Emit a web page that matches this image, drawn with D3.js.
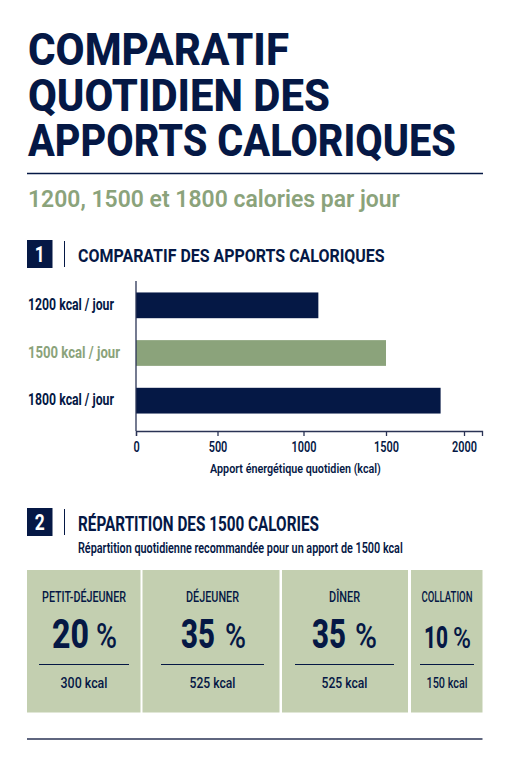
<!DOCTYPE html>
<html>
<head>
<meta charset="utf-8">
<script src="https://cdn.jsdelivr.net/npm/d3@7"></script>
<style>
    html, body { margin: 0; padding: 0; background: #fff; }
    svg { display: block; }
    text { font-family: Roboto, "Liberation Sans", sans-serif; }
</style>
</head>
<body>
<div id="graph"></div>
<script>
var titleLines = ["COMPARATIF", "QUOTIDIEN DES", "APPORTS CALORIQUES"];
var subtitle = "1200, 1500 et 1800 calories par jour";
var categories = ["1200 kcal / jour", "1500 kcal / jour", "1800 kcal / jour"];
var intakes = [1090, 1500, 1850];
var xTicks = [0, 500, 1000, 1500, 2000];
var mealLabels = ["PETIT-DÉJEUNER", "DÉJEUNER", "DÎNER", "COLLATION"];
var mealShares = [20, 35, 35, 10];
var mealKcal = [300, 525, 525, 150];

var width = 511,
    height = 768,
    navy = "#051845",
    green = "#8ba37b",
    pale = "#c3cfb0";

var svg = d3.select("#graph")
    .append("svg")
    .attr("width", width)
    .attr("height", height);

// text squeezed to a set width, the font stack has no condensed cut
function put(str, x, y, size, weight, fill, w, anchor) {
    var t = svg.append("text")
        .attr("font-size", size)
        .attr("font-weight", weight)
        .attr("fill", fill)
        .attr("text-anchor", anchor || "start")
        .text(str);
    var natural = t.node().getComputedTextLength();
    t.attr("transform", "translate(" + x + "," + y + ") scale(" + (w / natural) + ",1)");
    return t;
}

function rule(x1, x2, y, color, sw) {
    svg.append("line")
        .attr("x1", x1).attr("x2", x2)
        .attr("y1", y).attr("y2", y)
        .attr("stroke", color)
        .attr("stroke-width", sw);
}

// header
var titleWidths = [261, 302, 428];
var titleBase = [65, 110.5, 156];
titleLines.forEach(function(d, i) {
    put(d, 28, titleBase[i], 45, 800, navy, titleWidths[i]);
});
rule(27, 483, 173.5, navy, 1.3);
put(subtitle, 28, 207, 24, 600, green, 372);

// section headers
function sectionHead(num, label, y, labelWidth, labelSize, labelBase) {
    svg.append("rect")
        .attr("x", 27).attr("y", y)
        .attr("width", 25.5).attr("height", 28)
        .attr("fill", navy);
    put(num, 39.7, y + 21.5, 22, 700, "#fff", 10, "middle");
    svg.append("line")
        .attr("x1", 64.5).attr("x2", 64.5)
        .attr("y1", y + 1).attr("y2", y + 27)
        .attr("stroke", navy)
        .attr("stroke-width", 1);
    put(label, 78, labelBase, labelSize, 700, navy, labelWidth);
}
sectionHead("1", "COMPARATIF DES APPORTS CALORIQUES", 240, 307, 18, 262);
sectionHead("2", "RÉPARTITION DES 1500 CALORIES", 508, 241, 20, 530.5);

// bar chart, tick spacing in the picture is a little uneven so the scale is piecewise
var x = d3.scaleLinear()
    .domain([0, 500, 1000, 1500, 2000, 2115])
    .range([136, 217.5, 303.5, 386, 464, 482]);

var y = d3.scaleBand()
    .domain(categories)
    .range([281.5, 424.5])
    .paddingInner(0.46)
    .paddingOuter(0.23);

svg.selectAll(".bar")
    .data(categories)
    .enter()
    .append("rect")
    .attr("class", "bar")
    .attr("x", x(0))
    .attr("y", function(d) { return y(d); })
    .attr("width", function(d, i) { return x(intakes[i]) - x(0); })
    .attr("height", y.bandwidth())
    .attr("fill", function(d, i) { return i === 1 ? green : navy; });

var catWidths = [86, 92, 86];
categories.forEach(function(d, i) {
    put(d, 28, y(d) + y.bandwidth() / 2 + 4.5, 16, 700, i === 1 ? green : navy, catWidths[i]);
});

var xAxis = svg.append("g")
    .attr("transform", "translate(0,431)")
    .call(d3.axisBottom(x).tickValues(xTicks).tickSize(5).tickPadding(6).tickFormat(d3.format("d")));

xAxis.selectAll(".domain, line").attr("stroke", "#2a3355").attr("stroke-width", 1.3);
xAxis.selectAll("text")
    .attr("font-size", 14)
    .attr("font-weight", 600)
    .attr("fill", navy)
    .attr("font-family", "Roboto")
    .attr("transform", "scale(0.78,1)");

svg.append("line")
    .attr("x1", x(0)).attr("x2", x(0))
    .attr("y1", 281).attr("y2", 431)
    .attr("stroke", "#2a3355")
    .attr("stroke-width", 1.3);

put("Apport énergétique quotidien (kcal)", 210, 472.5, 13, 600, navy, 171);

// meal cards
put("Répartition quotidienne recommandée pour un apport de 1500 kcal", 78, 553, 14, 600, navy, 325);

var cards = [
    { x0: 27, x1: 140.5, label: 84, numX: 52, numW: 37, pctX: 96, pctW: 21, rule: [39, 129], kcal: 47, size: 40 },
    { x0: 142.5, x1: 279.5, label: 53, numX: 181, numW: 34, pctX: 225, pctW: 21, rule: [161, 264], kcal: 46, size: 40 },
    { x0: 282, x1: 408, label: 31, numX: 312, numW: 34, pctX: 355, pctW: 22, rule: [295, 394], kcal: 46, size: 40 },
    { x0: 411, x1: 482.5, label: 51, numX: 424, numW: 24, pctX: 453, pctW: 18, rule: [420, 474], kcal: 41, size: 32 }
];
var cardTop = 570, cardBottom = 712.5;

cards.forEach(function(c, i) {
    var cx = (c.rule[0] + c.rule[1]) / 2;
    svg.append("rect")
        .attr("x", c.x0).attr("y", cardTop)
        .attr("width", c.x1 - c.x0).attr("height", cardBottom - cardTop)
        .attr("fill", pale);
    put(mealLabels[i], cx, i === 3 ? 602 : 601.5, i === 3 ? 14 : 15, 500, navy, c.label, "middle");
    put(String(mealShares[i]), c.numX, 648, c.size, 800, navy, c.numW);
    put("%", c.pctX, 648, c.size * 0.9, 500, navy, c.pctW);
    rule(c.rule[0], c.rule[1], 664.5, navy, 1.2);
    put(mealKcal[i] + " kcal", cx, 688, 15, 500, navy, c.kcal, "middle");
});

rule(27, 482.5, 739, "#2a3355", 1.3);
</script>
</body>
</html>
